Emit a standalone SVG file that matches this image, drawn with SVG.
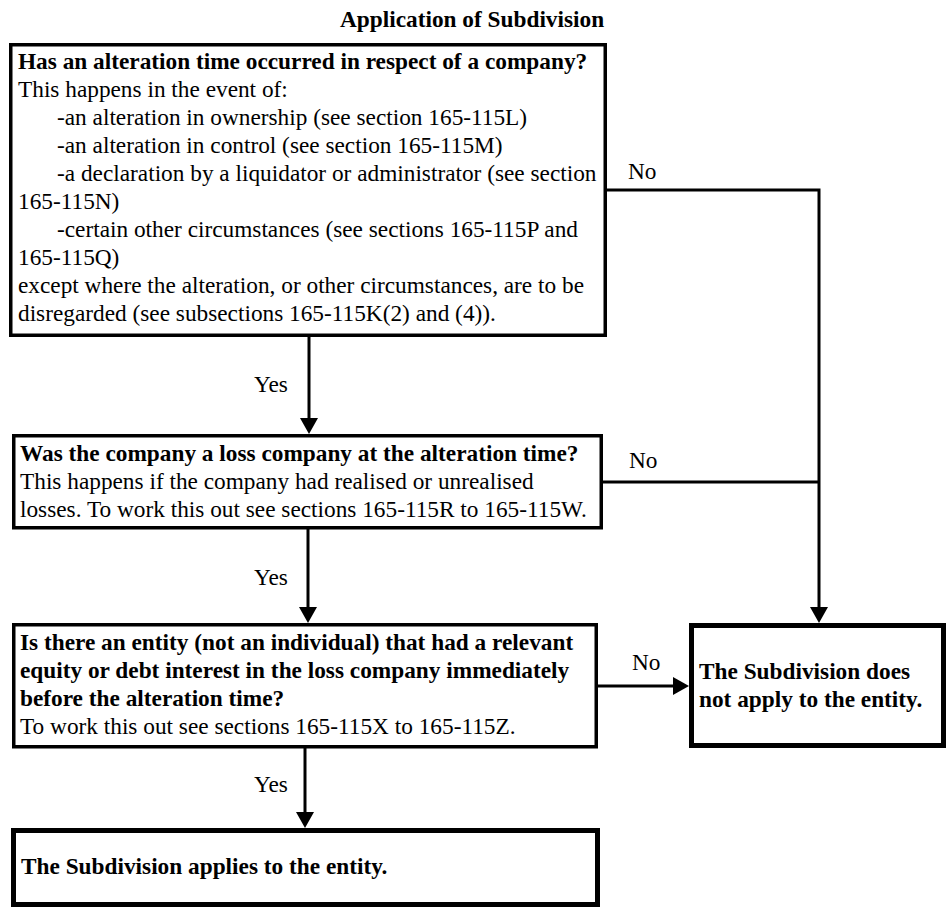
<svg xmlns="http://www.w3.org/2000/svg" width="947" height="916" viewBox="0 0 947 916">
<style>
  text { font-family: 'Liberation Serif', 'Times New Roman', serif; font-size: 23.3px; fill: #000; }
  .b { font-weight: bold; }
  .box { fill: #fff; stroke: #000; stroke-width: 3.5; }
  .thick { fill: #fff; stroke: #000; stroke-width: 5; }
  .conn { fill: none; stroke: #000; stroke-width: 3; }
</style>
<defs>
  <marker id="arr" viewBox="0 0 16 18" refX="8" refY="9" markerWidth="16" markerHeight="18" markerUnits="userSpaceOnUse" orient="auto">
    <path d="M0,0 L16,9 L0,18 Z" fill="#000"/>
  </marker>
</defs>
<rect width="947" height="916" fill="#fff"/>
<text class="b" x="340" y="27">Application of Subdivision</text>

<g id="connectors">
  <path class="conn" d="M309,336 V426" marker-end="url(#arr)"/>
  <path class="conn" d="M605,190 H819 V615" marker-end="url(#arr)"/>
  <path class="conn" d="M601,482 H819"/>
  <path class="conn" d="M308,529 V615" marker-end="url(#arr)"/>
  <path class="conn" d="M597,686 H681" marker-end="url(#arr)"/>
  <path class="conn" d="M305,748 V820" marker-end="url(#arr)"/>
  <text x="254" y="392">Yes</text>
  <text x="254" y="585">Yes</text>
  <text x="254" y="792">Yes</text>
  <text x="628" y="179">No</text>
  <text x="629" y="468">No</text>
  <text x="632" y="670">No</text>
</g>

<g id="n1">
  <rect class="box" x="10.75" y="44.75" width="594.5" height="290.5"/>
  <text class="b" x="18" y="69">Has an alteration time occurred in respect of a company?</text>
  <text x="18" y="97">This happens in the event of:</text>
  <text x="57" y="125">-an alteration in ownership (see section 165-115L)</text>
  <text x="57" y="153">-an alteration in control (see section 165-115M)</text>
  <text x="57" y="181">-a declaration by a liquidator or administrator (see section</text>
  <text x="18" y="209">165-115N)</text>
  <text x="57" y="237">-certain other circumstances (see sections 165-115P and</text>
  <text x="18" y="265">165-115Q)</text>
  <text x="18" y="293">except where the alteration, or other circumstances, are to be</text>
  <text x="18" y="321">disregarded (see subsections 165-115K(2) and (4)).</text>
</g>

<g id="n2">
  <rect class="box" x="13.75" y="435.75" width="587.5" height="92"/>
  <text class="b" x="20" y="461">Was the company a loss company at the alteration time?</text>
  <text x="20" y="489">This happens if the company had realised or unrealised</text>
  <text x="20" y="517">losses. To work this out see sections 165-115R to 165-115W.</text>
</g>

<g id="n3">
  <rect class="box" x="13.75" y="624.75" width="582.5" height="122"/>
  <text class="b" x="20" y="650">Is there an entity (not an individual) that had a relevant</text>
  <text class="b" x="20" y="678">equity or debt interest in the loss company immediately</text>
  <text class="b" x="20" y="706">before the alteration time?</text>
  <text x="20" y="734">To work this out see sections 165-115X to 165-115Z.</text>
</g>

<g id="n4">
  <rect class="thick" x="691.5" y="625.5" width="252" height="120"/>
  <text class="b" x="699" y="679">The Subdivision does</text>
  <text class="b" x="699" y="707">not apply to the entity.</text>
</g>

<g id="n5">
  <rect class="thick" x="13.5" y="830.5" width="584" height="74"/>
  <text class="b" x="21" y="874">The Subdivision applies to the entity.</text>
</g>
</svg>
